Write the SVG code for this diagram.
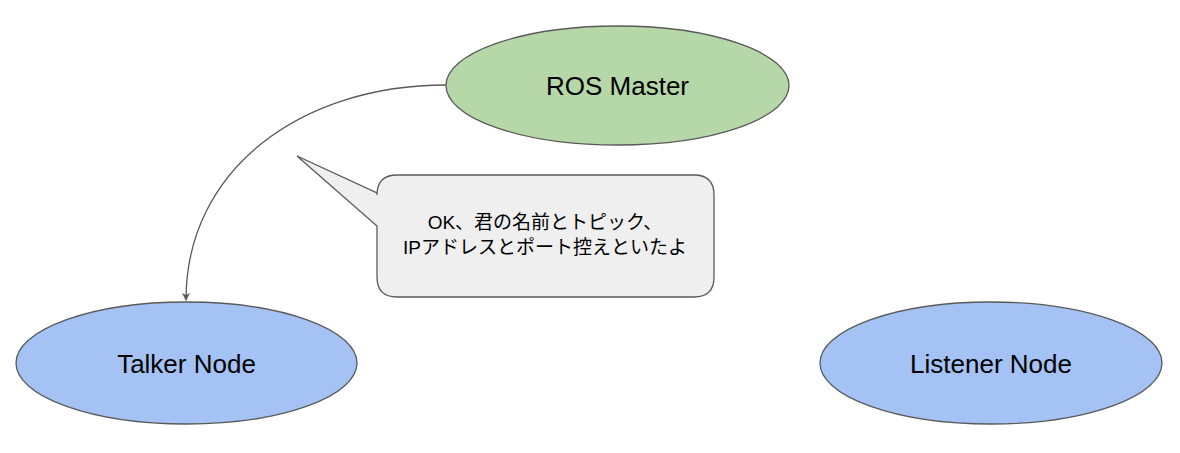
<svg xmlns="http://www.w3.org/2000/svg" width="1180" height="453" viewBox="0 0 1180 453">
<style>
.node{stroke:#595959;stroke-width:1.3}
.lbl{font-family:"Liberation Sans",Arial,sans-serif;font-size:26px;fill:#000;text-anchor:middle}
.say{font-family:"Liberation Sans","Noto Sans CJK JP",sans-serif;font-size:19px;fill:#000;text-anchor:middle}
.edge{fill:none;stroke:#595959;stroke-width:1.3}
</style>
<defs>
<marker id="arr" markerWidth="10" markerHeight="10" refX="8" refY="5" orient="auto" markerUnits="userSpaceOnUse">
<path d="M1,1 L9,5 L1,9 L3,5 Z" fill="#595959"/>
</marker>
</defs>
<rect width="1180" height="453" fill="#fff"/>
<g id="connectors">
<path class="edge" d="M446,85 C300,85 186,170 186,300" marker-end="url(#arr)"/>
</g>
<g id="master">
<ellipse class="node" cx="617.5" cy="85.5" rx="171.5" ry="59.5" fill="#b6d7a8"/>
<text class="lbl" x="617.5" y="94.5">ROS Master</text>
</g>
<g id="talker">
<ellipse class="node" cx="186.5" cy="363" rx="170.5" ry="61" fill="#a4c2f4"/>
<text class="lbl" x="186.5" y="372.5">Talker Node</text>
</g>
<g id="listener">
<ellipse class="node" cx="991" cy="363" rx="171" ry="61" fill="#a4c2f4"/>
<text class="lbl" x="991" y="372.5">Listener Node</text>
</g>
<g id="callout">
<path class="node" fill="#efefef" d="M397,175 H694 Q714,175 714,195 V277 Q714,297 694,297 H397 Q377,297 377,277 V226 L297,156 L377,193 V195 Q377,175 397,175 Z"/>
<text class="say" x="545" y="229">OK、君の名前とトピック、</text>
<text class="say" x="545" y="254">IPアドレスとポート控えといたよ</text>
</g>
</svg>
